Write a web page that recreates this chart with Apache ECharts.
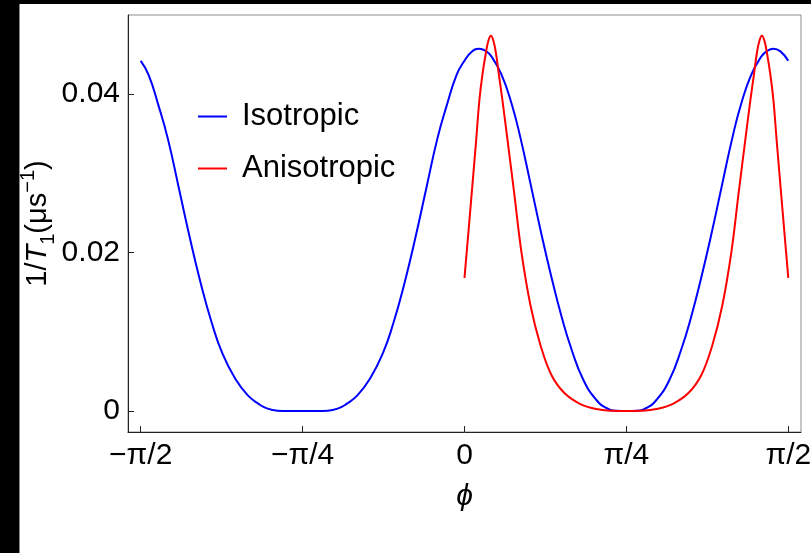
<!DOCTYPE html>
<html>
<head>
<meta charset="utf-8">
<script src="https://cdn.jsdelivr.net/npm/echarts@6/dist/echarts.min.js"></script>
<style>
  html, body { margin: 0; padding: 0; background: #000; width: 811px; height: 553px; overflow: hidden; }
  #edge { position: absolute; left: 19px; top: 4px; width: 1px; height: 549px; background: #8a8a8a; }
  #chart { position: absolute; left: 20px; top: 4px; width: 791px; height: 549px; background: #fff; }
</style>
</head>
<body>
<div id="edge"></div>
<div id="chart"></div>
<script>
// Relaxation rate 1/T1 versus angle phi (radians)
const isoPhi = [
  -1.5708, -1.5325, -1.4840, -1.4389, -1.3845, -1.3336, -1.2802, -1.2269, -1.1735, -1.1104,
  -1.0522, -0.9989, -0.9552, -0.9067, -0.8582, -0.7854, -0.7126, -0.6641, -0.6156, -0.5719,
  -0.5186, -0.4604, -0.3973, -0.3439, -0.2906, -0.2372, -0.1863, -0.1319, -0.0868, -0.0383,
   0.0000,  0.0364,  0.0718,  0.1014,  0.1305,  0.1790,  0.2275,  0.2712,  0.3245,  0.3730,
   0.4216,  0.4701,  0.5186,  0.5768,  0.6399,  0.6884,  0.7369,  0.7854,  0.8339,  0.8824,
   0.9309,  0.9940,  1.0522,  1.1007,  1.1492,  1.1978,  1.2463,  1.2996,  1.3433,  1.3918,
   1.4403,  1.4694,  1.4985,  1.5325,  1.5708
];
const isoRate = [
  0.04422, 0.04245, 0.03853, 0.03436, 0.02800, 0.02200, 0.01620, 0.01120, 0.00720, 0.00400,
  0.00200, 0.00090, 0.00030, 0.00004, 0.00000, 0.00000, 0.00000, 0.00004, 0.00030, 0.00090,
  0.00200, 0.00400, 0.00720, 0.01120, 0.01620, 0.02200, 0.02800, 0.03436, 0.03853, 0.04245,
  0.04422, 0.04538, 0.04574, 0.04549, 0.04478, 0.04250, 0.03890, 0.03452, 0.02817, 0.02236,
  0.01693, 0.01200, 0.00783, 0.00392, 0.00139, 0.00038, 0.00003, 0.00000, 0.00003, 0.00038,
  0.00139, 0.00392, 0.00783, 0.01200, 0.01693, 0.02236, 0.02817, 0.03452, 0.03890, 0.04250,
  0.04478, 0.04549, 0.04574, 0.04541, 0.04422
];

const anisoPhi = [
  0.0000, 0.0286, 0.0567, 0.0723, 0.0868, 0.1038, 0.1159, 0.1281, 0.1402, 0.1523,
  0.1669, 0.1838, 0.2086, 0.2421, 0.2760, 0.3197, 0.3682, 0.4216, 0.4846, 0.5622,
  0.6399, 0.7126, 0.7854, 0.8582, 0.9309, 1.0086, 1.0862, 1.1492, 1.2026, 1.2511,
  1.2948, 1.3287, 1.3622, 1.3870, 1.4039, 1.4185, 1.4306, 1.4427, 1.4549, 1.4670,
  1.4840, 1.4985, 1.5141, 1.5422, 1.5708
];
const anisoRate = [
  0.01680, 0.02552, 0.03424, 0.03929, 0.04245, 0.04523, 0.04675, 0.04738, 0.04675, 0.04523,
  0.04245, 0.03929, 0.03424, 0.02729, 0.02009, 0.01339, 0.00834, 0.00455, 0.00227, 0.00088,
  0.00025, 0.00004, 0.00000, 0.00004, 0.00025, 0.00088, 0.00227, 0.00455, 0.00834, 0.01339,
  0.02009, 0.02729, 0.03424, 0.03929, 0.04245, 0.04523, 0.04675, 0.04738, 0.04675, 0.04523,
  0.04245, 0.03929, 0.03424, 0.02552, 0.01680
];

const xTickValues = [-Math.PI / 2, -Math.PI / 4, 0, Math.PI / 4, Math.PI / 2];
const xTickLabels = ['\u2212\u03C0/2', '\u2212\u03C0/4', '0', '\u03C0/4', '\u03C0/2'];
const yTickValues = [0, 0.02, 0.04];
const yTickLabels = ['0', '0.02', '0.04'];

const seriesNames = ['Isotropic', 'Anisotropic'];
const seriesColors = ['#0000ff', '#ff0000'];

const zip = (xs, ys) => xs.map((x, i) => [x, ys[i]]);
const nearestLabel = (vals, labels, v) => {
  let best = 0;
  vals.forEach((t, i) => { if (Math.abs(t - v) < Math.abs(vals[best] - v)) best = i; });
  return labels[best];
};

const FONT = 'Liberation Sans, Arial, sans-serif';
const AXIS = '#222';

const chart = echarts.init(document.getElementById('chart'), null, { renderer: 'canvas' });
chart.setOption({
  animation: false,
  backgroundColor: '#fff',
  grid: {
    left: 108, top: 11, right: 10, bottom: 121,
    containLabel: false,
    outerBoundsMode: 'none',
    show: true, borderColor: '#8c8c8c', borderWidth: 1, backgroundColor: 'transparent'
  },
  legend: {
    orient: 'vertical',
    left: 173, top: 92,
    itemWidth: 29, itemHeight: 2, itemGap: 21,
    icon: 'rect',
    data: seriesNames,
    textStyle: { fontFamily: FONT, fontSize: 31, color: '#000', lineHeight: 30, padding: [0, 0, 0, 10] }
  },
  xAxis: {
    type: 'value',
    min: -1.6324, max: 1.6324,
    name: '\u03D5',
    nameLocation: 'middle',
    nameGap: 50,
    nameMoveOverlap: false,
    nameTextStyle: { fontFamily: FONT, fontSize: 30, fontStyle: 'italic', color: '#000' },
    axisLine: { show: true, onZero: false, lineStyle: { color: AXIS, width: 1 } },
    axisTick: { show: true, inside: true, length: 6, customValues: xTickValues, lineStyle: { color: AXIS } },
    axisLabel: {
      customValues: xTickValues,
      margin: 9,
      fontFamily: FONT, fontSize: 30, color: '#000',
      formatter: v => nearestLabel(xTickValues, xTickLabels, v)
    },
    splitLine: { show: false }
  },
  yAxis: {
    type: 'value',
    min: -0.00265, max: 0.05,
    name: '{a|1/}{i|T}{s|1}{a|(\u03BCs}{p|\u22121}{a|)}',
    nameLocation: 'middle',
    nameRotate: 90,
    nameGap: 70,
    nameMoveOverlap: false,
    nameTextStyle: {
      rich: {
        a: { fontFamily: FONT, fontSize: 29, color: '#000', lineHeight: 40, verticalAlign: 'middle' },
        i: { fontFamily: FONT, fontSize: 29, fontStyle: 'italic', color: '#000', lineHeight: 40, verticalAlign: 'middle' },
        s: { fontFamily: FONT, fontSize: 20, color: '#000', lineHeight: 26, verticalAlign: 'bottom' },
        p: { fontFamily: FONT, fontSize: 20, color: '#000', lineHeight: 24, verticalAlign: 'top' }
      }
    },
    axisLine: { show: true, onZero: false, lineStyle: { color: AXIS, width: 1 } },
    axisTick: { show: true, inside: true, length: 6, customValues: yTickValues, lineStyle: { color: AXIS } },
    axisLabel: {
      customValues: yTickValues,
      margin: 8,
      fontFamily: FONT, fontSize: 30, color: '#000',
      formatter: v => nearestLabel(yTickValues, yTickLabels, v)
    },
    splitLine: { show: false }
  },
  series: [
    {
      name: seriesNames[0], type: 'line',
      data: zip(isoPhi, isoRate),
      smooth: 0.5, showSymbol: false, symbol: 'none',
      lineStyle: { color: seriesColors[0], width: 2 },
      itemStyle: { color: seriesColors[0] }
    },
    {
      name: seriesNames[1], type: 'line',
      data: zip(anisoPhi, anisoRate),
      smooth: 0.4, showSymbol: false, symbol: 'none',
      lineStyle: { color: seriesColors[1], width: 2 },
      itemStyle: { color: seriesColors[1] }
    }
  ]
});
</script>
</body>
</html>
